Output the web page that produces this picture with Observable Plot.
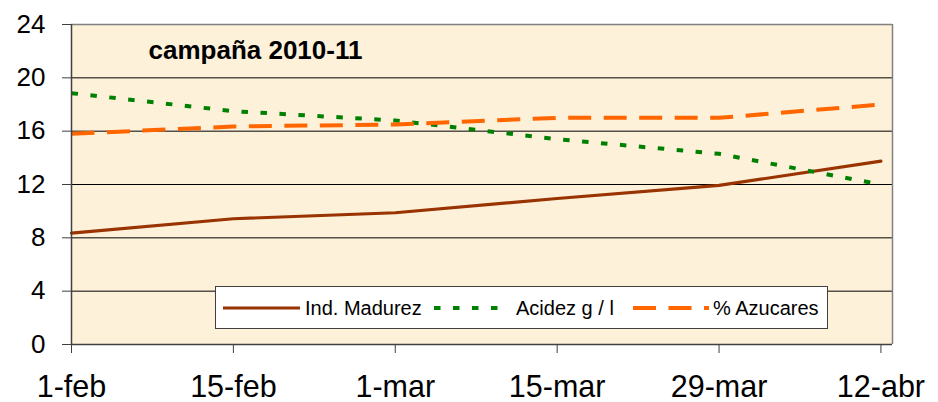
<!DOCTYPE html>
<html>
<head>
<meta charset="utf-8">
<script src="https://cdn.jsdelivr.net/npm/d3@7"></script>
<script src="https://cdn.jsdelivr.net/npm/@observablehq/plot@0.6"></script>
<style>
  html, body { margin: 0; padding: 0; background: #ffffff; }
  #wrap { position: relative; width: 938px; height: 402px; font-family: "Liberation Sans", Arial, sans-serif; }
  #legend { position: absolute; left: 215px; top: 286px; width: 611px; height: 41px; background: #ffffff; border: 1px solid #404040; box-sizing: content-box; }
</style>
</head>
<body>
<div id="wrap"></div>
<script>
// ---- data ----
const dates = ["2011-02-01", "2011-02-15", "2011-03-01", "2011-03-15", "2011-03-29", "2011-04-12"];
const tickLabels = ["1-feb", "15-feb", "1-mar", "15-mar", "29-mar", "12-abr"];
const madurez = [8.35, 9.43, 9.88, 10.95, 11.93, 13.75];
const acidez = [18.85, 17.5, 16.8, 15.4, 14.3, 12.0];
const azucares = [15.8, 16.35, 16.5, 17.0, 17.0, 18.0];
const yTicks = [0, 4, 8, 12, 16, 20, 24];
const gridValues = [4, 8, 12, 16, 20];
const seriesNames = ["Ind. Madurez", "Acidez g / l", "% Azucares"];
const titleText = "campaña 2010-11";

const parsed = dates.map(d => new Date(d + "T00:00:00Z"));
const xStart = parsed[0];
const xEnd = new Date("2011-04-13T00:00:00Z");

const rows = (vals) => parsed.map((d, i) => ({date: d, value: vals[i]}));
const labelOf = new Map(parsed.map((d, i) => [+d, tickLabels[i]]));

const font = "Liberation Sans, Arial, sans-serif";

const chart = Plot.plot({
  width: 938,
  height: 402,
  marginLeft: 71,
  marginRight: 46,
  marginTop: 24,
  marginBottom: 58,
  style: {fontFamily: font, background: "transparent", color: "#000"},
  x: {type: "utc", domain: [xStart, xEnd]},
  y: {domain: [0, 24]},
  marks: [
    Plot.frame({fill: "#fdf1da", stroke: "none"}),
    Plot.ruleY(gridValues, {stroke: "#000", strokeWidth: 1}),
    Plot.ruleY([24], {stroke: "#808080", strokeWidth: 1.5}),
    Plot.ruleX([xEnd], {stroke: "#808080", strokeWidth: 1.5}),
    Plot.line(rows(madurez), {x: "date", y: "value", stroke: "#993300", strokeWidth: 3.2}),
    Plot.line(rows(acidez), {x: "date", y: "value", stroke: "#008000", strokeWidth: 4, strokeDasharray: "6.5,12.5", strokeLinecap: "butt"}),
    Plot.line(rows(azucares), {x: "date", y: "value", stroke: "#ff6600", strokeWidth: 4, strokeDasharray: "23,12.5", strokeLinecap: "butt"}),
    Plot.ruleX([xStart], {stroke: "#404040", strokeWidth: 1.5}),
    Plot.ruleY([0], {stroke: "#404040", strokeWidth: 1.5}),
    Plot.axisY({ticks: yTicks, tickSize: 9, tickPadding: 17, fontSize: 26, label: null, stroke: "#404040", tickFormat: d => String(d)}),
    Plot.axisX({ticks: parsed, tickSize: 9, tickPadding: 22, fontSize: 30.5, label: null, stroke: "#404040", tickFormat: d => labelOf.get(+d)}),
    Plot.text([titleText], {frameAnchor: "top-left", dx: 77, dy: 34, lineAnchor: "bottom", textAnchor: "start", fontSize: 26, fontWeight: "bold", fill: "#000"})
  ]
});

const wrap = document.getElementById("wrap");
wrap.appendChild(chart);

// ---- legend ----
const legend = document.createElement("div");
legend.id = "legend";
const ns = "http://www.w3.org/2000/svg";
const lsvg = document.createElementNS(ns, "svg");
lsvg.setAttribute("width", "611");
lsvg.setAttribute("height", "41");
lsvg.style.display = "block";
const items = [
  {x0: 7, x1: 84, tx: 89, stroke: "#993300", w: 3.2, dash: null},
  {x0: 218, x1: 284, tx: 300, stroke: "#008000", w: 4, dash: "6.5,12.5"},
  {x0: 417, x1: 493, tx: 497, stroke: "#ff6600", w: 4, dash: "23,12.5"}
];
items.forEach((it, i) => {
  const ln = document.createElementNS(ns, "line");
  ln.setAttribute("x1", it.x0); ln.setAttribute("x2", it.x1);
  ln.setAttribute("y1", 21); ln.setAttribute("y2", 21);
  ln.setAttribute("stroke", it.stroke);
  ln.setAttribute("stroke-width", it.w);
  if (it.dash) ln.setAttribute("stroke-dasharray", it.dash);
  lsvg.appendChild(ln);
  const tx = document.createElementNS(ns, "text");
  tx.setAttribute("x", it.tx); tx.setAttribute("y", 27.5);
  tx.setAttribute("font-size", "20");
  tx.setAttribute("font-family", font);
  tx.setAttribute("fill", "#000");
  tx.textContent = seriesNames[i];
  lsvg.appendChild(tx);
});
legend.appendChild(lsvg);
wrap.appendChild(legend);
</script>
</body>
</html>
